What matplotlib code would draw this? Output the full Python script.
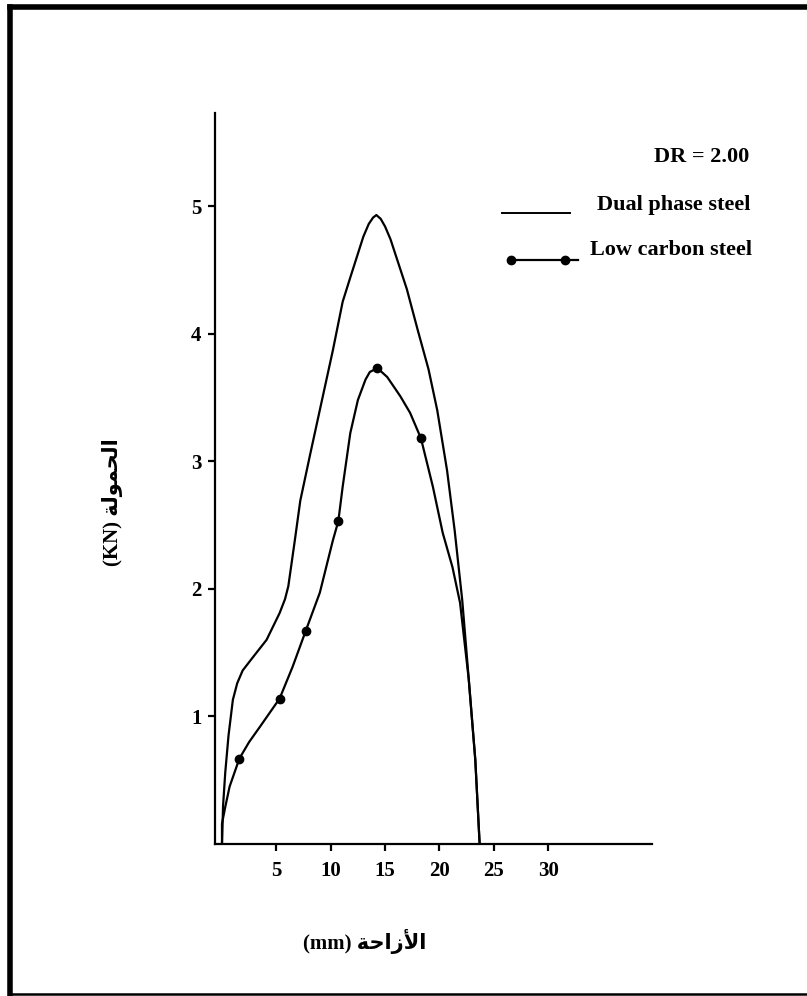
import matplotlib
matplotlib.use("Agg")
import matplotlib.pyplot as plt
from matplotlib.lines import Line2D

plt.rcParams['font.family'] = ['Liberation Serif', 'DejaVu Sans']
plt.rcParams['font.weight'] = 'bold'

dual_x = [0.0, 0.1, 0.3, 0.6, 1.0, 1.4, 1.9, 2.9, 4.1, 5.3, 5.8, 6.1, 6.4,
          6.7, 7.2, 8.1, 9.2, 10.2, 11.1, 11.8, 12.4, 13.0, 13.5, 13.9, 14.2,
          14.6, 15.0, 15.5, 17.0, 18.0, 19.0, 19.8, 20.7, 21.4, 22.1, 22.7,
          23.3, 23.7]
dual_y = [0.0, 0.3, 0.56, 0.85, 1.13, 1.26, 1.36, 1.47, 1.60, 1.81, 1.92, 2.02,
          2.20, 2.38, 2.69, 3.05, 3.48, 3.87, 4.25, 4.44, 4.60, 4.76, 4.86,
          4.91, 4.93, 4.90, 4.84, 4.74, 4.35, 4.03, 3.72, 3.40, 2.93, 2.46,
          1.91, 1.29, 0.66, 0.0]

low_x = [0.0, 0.0, 0.3, 0.7, 1.6, 2.5, 3.5, 4.4, 5.3, 6.5, 7.7, 9.0, 10.2,
         10.7, 11.1, 11.8, 12.5, 13.2, 13.6, 14.3, 15.2, 16.4, 17.3, 18.3,
         19.4, 20.3, 21.2, 21.9, 22.7, 23.3, 23.7]
low_y = [0.0, 0.16, 0.29, 0.45, 0.67, 0.80, 0.92, 1.03, 1.14, 1.39, 1.67, 1.97,
         2.38, 2.53, 2.80, 3.22, 3.48, 3.64, 3.70, 3.73, 3.66, 3.51, 3.38,
         3.18, 2.80, 2.44, 2.17, 1.89, 1.29, 0.66, 0.0]

mark_x = [1.6, 5.3, 7.7, 10.7, 14.3, 18.3]
mark_y = [0.67, 1.14, 1.67, 2.53, 3.73, 3.18]

x_ticks = [5, 10, 15, 20, 25, 30]
y_ticks = [1, 2, 3, 4, 5]

xlabel = "(mm) " + "\ufe94\ufea3\ufe8d\ufeaf\ufef7\ufe8d"          # الأزاحة
ylabel = "(KN) " + "\ufe94\ufedf\ufeee\ufee4\ufea4\ufedf\ufe8d"    # الحمولة

fig = plt.figure(figsize=(8.07, 9.96), dpi=100)
ax = fig.add_axes([0.267, 0.1526, 0.541, 0.734])

ax.plot(dual_x, dual_y, color='black', lw=1.6)
ax.plot(low_x, low_y, color='black', lw=1.6)
ax.plot(mark_x, mark_y, 'o', color='black', ms=6)

ax.set_xlim(-0.6, 39.56)
ax.set_ylim(0, 5.73)
ax.set_xticks(x_ticks)
ax.set_yticks(y_ticks)
ax.tick_params(direction='out', length=5, width=1.6, labelsize=15, pad=7)
ax.tick_params(axis='y', pad=5)
for s in ['top', 'right']:
    ax.spines[s].set_visible(False)
for s in ['left', 'bottom']:
    ax.spines[s].set_linewidth(1.6)
for lab in ax.get_xticklabels() + ax.get_yticklabels():
    lab.set_fontweight('bold')

fig.text(0.452, 0.055, xlabel, ha='center', va='center', fontsize=15,
         fontweight='bold')
fig.text(0.139, 0.496, ylabel, ha='center', va='center', fontsize=15,
         fontweight='bold', rotation=90)

# legend drawn by hand
fig.text(0.928, 0.842, "DR = 2.00", ha='right', va='center', fontsize=16)
fig.text(0.740, 0.794, "Dual phase steel", ha='left', va='center', fontsize=16)
fig.text(0.731, 0.749, "Low carbon steel", ha='left', va='center', fontsize=16)
fig.add_artist(Line2D([0.622, 0.706], [0.786, 0.786], color='black', lw=1.4))
fig.add_artist(Line2D([0.632, 0.716], [0.739, 0.739], color='black', lw=1.6))
fig.add_artist(Line2D([0.633, 0.700], [0.739, 0.739], ls='none', marker='o',
                      color='black', ms=6))

# scanned page frame: thick left/top, thin bottom
fig.add_artist(Line2D([0.013, 0.013], [0.0015, 0.9925], color='black', lw=4,
                      solid_capstyle='projecting'))
fig.add_artist(Line2D([0.013, 1.0], [0.9925, 0.9925], color='black', lw=4))
fig.add_artist(Line2D([0.013, 1.0], [0.0018, 0.0018], color='black', lw=1.8))

fig.savefig("out.png", dpi=100)
